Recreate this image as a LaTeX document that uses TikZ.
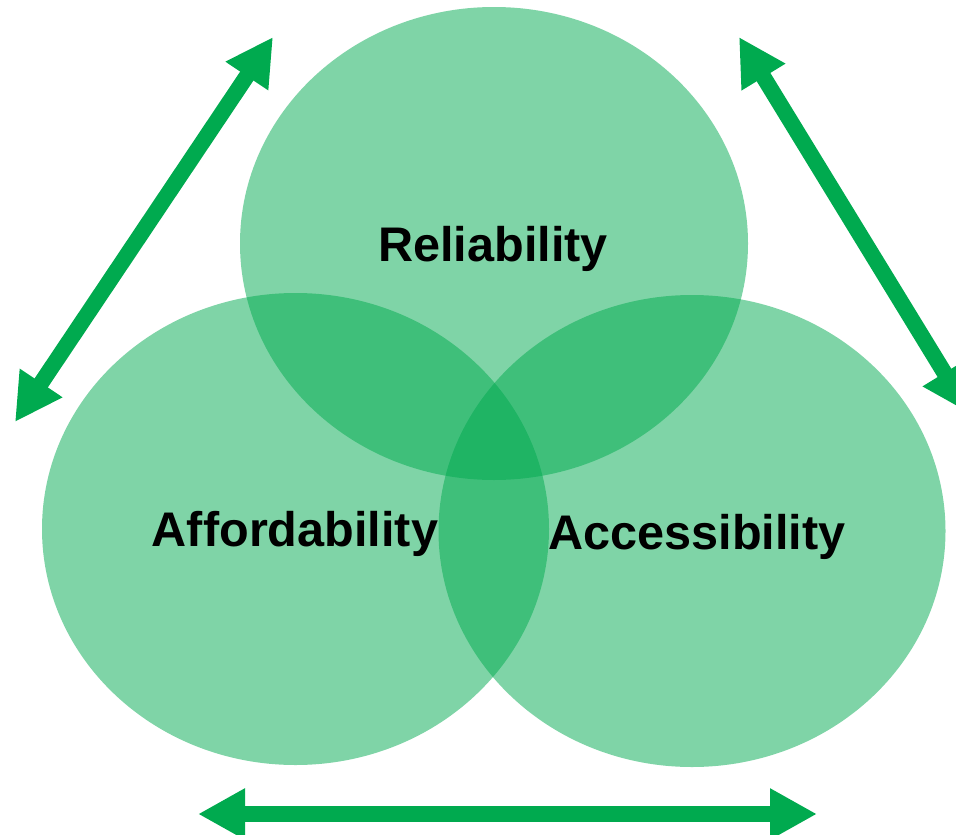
\documentclass[tikz,border=0pt]{standalone}
\usepackage{fontspec}
\setmainfont{Liberation Sans}
\usetikzlibrary{arrows.meta}
\definecolor{arrowgreen}{RGB}{0,170,79}
\tikzset{
  pillar/.style={fill=arrowgreen, fill opacity=0.5, draw=none},
  label/.style={font=\fontsize{48.6}{50}\selectfont\bfseries, text=black, inner sep=0pt},
  biarrow/.style={draw=arrowgreen, line width=16pt,
    {Triangle[length=47pt,width=48pt]}-{Triangle[length=47pt,width=48pt]}}
}
\begin{document}
\begin{tikzpicture}[x=1pt,y=-1pt]
\useasboundingbox (0,0) rectangle (956,835);
\clip (0,0) rectangle (956,835);
\fill[pillar] (494,243.5) ellipse [x radius=254, y radius=236.5];
\fill[pillar] (295.5,529) ellipse [x radius=253.5, y radius=236];
\fill[pillar] (692,531) ellipse [x radius=253.5, y radius=236];
\node[label] (rel) at (493,249) {Reliability};
\node[label] (aff) at (295,534) {Affordability};
\node[label] (acc) at (697,537) {Accessibility};
\coordinate (l1) at (15,422);
\coordinate (l2) at (273,37);
\coordinate (r1) at (739,37);
\coordinate (r2) at (969,413);
\coordinate (b1) at (198,814);
\coordinate (b2) at (817,814);
\draw[biarrow] (l1) -- (l2);
\draw[biarrow] (r1) -- (r2);
\draw[biarrow] (b1) -- (b2);
\end{tikzpicture}
\end{document}
